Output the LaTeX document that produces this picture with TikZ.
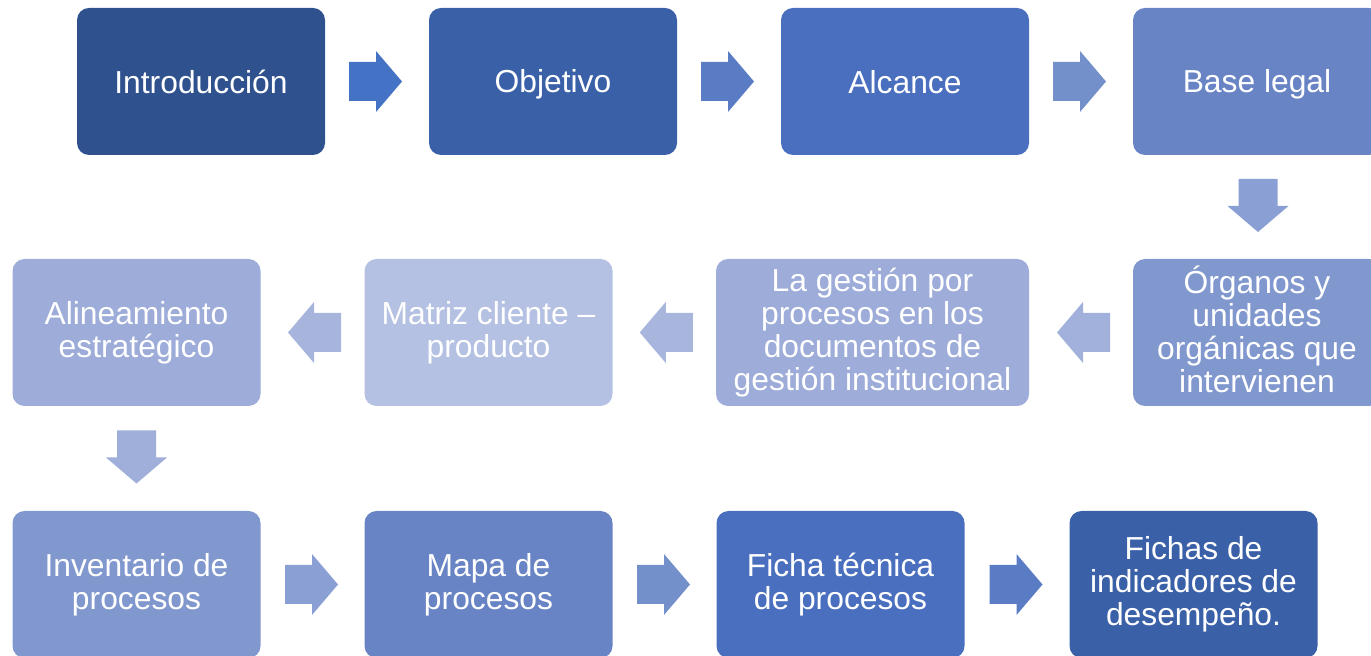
\documentclass[tikz,border=0pt]{standalone}
\usepackage{fontspec}
\setmainfont{Liberation Sans}
\usetikzlibrary{calc}
\definecolor{cA}{HTML}{2F528F}
\definecolor{cB}{HTML}{3A60A8}
\definecolor{cC}{HTML}{4A6FBE}
\definecolor{cD}{HTML}{6884C5}
\definecolor{cE}{HTML}{8198CF}
\definecolor{cF}{HTML}{9DACD8}
\definecolor{cG}{HTML}{B5C1E2}
\definecolor{aA}{HTML}{4472C4}
\definecolor{aB}{HTML}{5A7CC4}
\definecolor{aC}{HTML}{7390CB}
\definecolor{aD}{HTML}{8A9FD3}
\definecolor{aE}{HTML}{A2B1DB}
\definecolor{aF}{HTML}{A8B6DD}
\definecolor{aG}{HTML}{A7B5DC}
\definecolor{aH}{HTML}{A0AFDA}
\definecolor{aI}{HTML}{8A9FD3}
\definecolor{aJ}{HTML}{7390CB}
\definecolor{aK}{HTML}{5A7CC4}
\tikzset{
  box/.style={rounded corners=12pt, minimum width=248pt, minimum height=147pt,
    inner sep=0pt, align=center, text=white,
    font=\fontsize{31.8}{33}\selectfont,
    execute at begin node={\rule[-4.5pt]{0pt}{33pt}},
    execute at end node={\rule[-4.5pt]{0pt}{20pt}}},
  tallbox/.style={box,
    execute at begin node={\rule[-6pt]{0pt}{33pt}},
    execute at end node={\rule[-6pt]{0pt}{20pt}}},
  barrow/.pic={\fill[pic actions] (-26.5,-19.5) -- (0.5,-19.5) -- (0.5,-30.5) -- (26.5,0) -- (0.5,30.5) -- (0.5,19.5) -- (-26.5,19.5) -- cycle;}
}
\begin{document}
\begin{tikzpicture}[x=1pt,y=1pt]
\useasboundingbox (0,0) rectangle (1371,656);
\clip (0,0) rectangle (1371,656);
% row 1
\node[box, fill=cA] (intro) at (201,574.5) {Introducción};
\node[box, fill=cB] (obj) at (553,574.5) {Objetivo};
\node[box, fill=cC] (alc) at (905,574.5) {Alcance};
\node[box, fill=cD] (base) at (1257,574.5) {Base legal};
% row 2
\node[tallbox, fill=cE] (org) at (1257,323.5) {Órganos y\\unidades\\orgánicas que\\intervienen};
\node[tallbox, fill=cF, minimum width=313pt] (ges) at (872.5,323.5) {La gestión por\\procesos en los\\documentos de\\gestión institucional};
\node[box, fill=cG] (mat) at (488.5,323.5) {Matriz cliente –\\producto};
\node[box, fill=cF] (ali) at (136.5,323.5) {Alineamiento\\estratégico};
% row 3
\node[box, fill=cE] (inv) at (136.5,71.5) {Inventario de\\procesos};
\node[box, fill=cD] (mapa) at (488.5,71.5) {Mapa de\\procesos};
\node[box, fill=cC] (ficha) at (840.5,71.5) {Ficha técnica\\de procesos};
\node[box, fill=cB] (fichas) at (1193.5,71.5) {Fichas de\\indicadores de\\desempeño.};
% arrows
\pic[fill=aA] at ($(intro.east)!0.5!(obj.west)+(-1.5,0)$) {barrow};
\pic[fill=aB] at ($(obj.east)!0.5!(alc.west)+(-1.5,0)$) {barrow};
\pic[fill=aC] at ($(alc.east)!0.5!(base.west)+(-1.5,0)$) {barrow};
\pic[fill=aD, rotate=-90] at ($(base.south)!0.5!(org.north)+(1,1.5)$) {barrow};
\pic[fill=aE, rotate=180] at ($(org.west)!0.5!(ges.east)+(2.5,0)$) {barrow};
\pic[fill=aF, rotate=180] at ($(ges.west)!0.5!(mat.east)+(2,0)$) {barrow};
\pic[fill=aG, rotate=180] at ($(mat.west)!0.5!(ali.east)+(2,0)$) {barrow};
\pic[fill=aH, rotate=-90] at ($(ali.south)!0.5!(inv.north)+(0,1.5)$) {barrow};
\pic[fill=aI] at ($(inv.east)!0.5!(mapa.west)+(-1,0)$) {barrow};
\pic[fill=aJ] at ($(mapa.east)!0.5!(ficha.west)+(-1,0)$) {barrow};
\pic[fill=aK] at ($(ficha.east)!0.5!(fichas.west)+(-1,0)$) {barrow};
\end{tikzpicture}
\end{document}
